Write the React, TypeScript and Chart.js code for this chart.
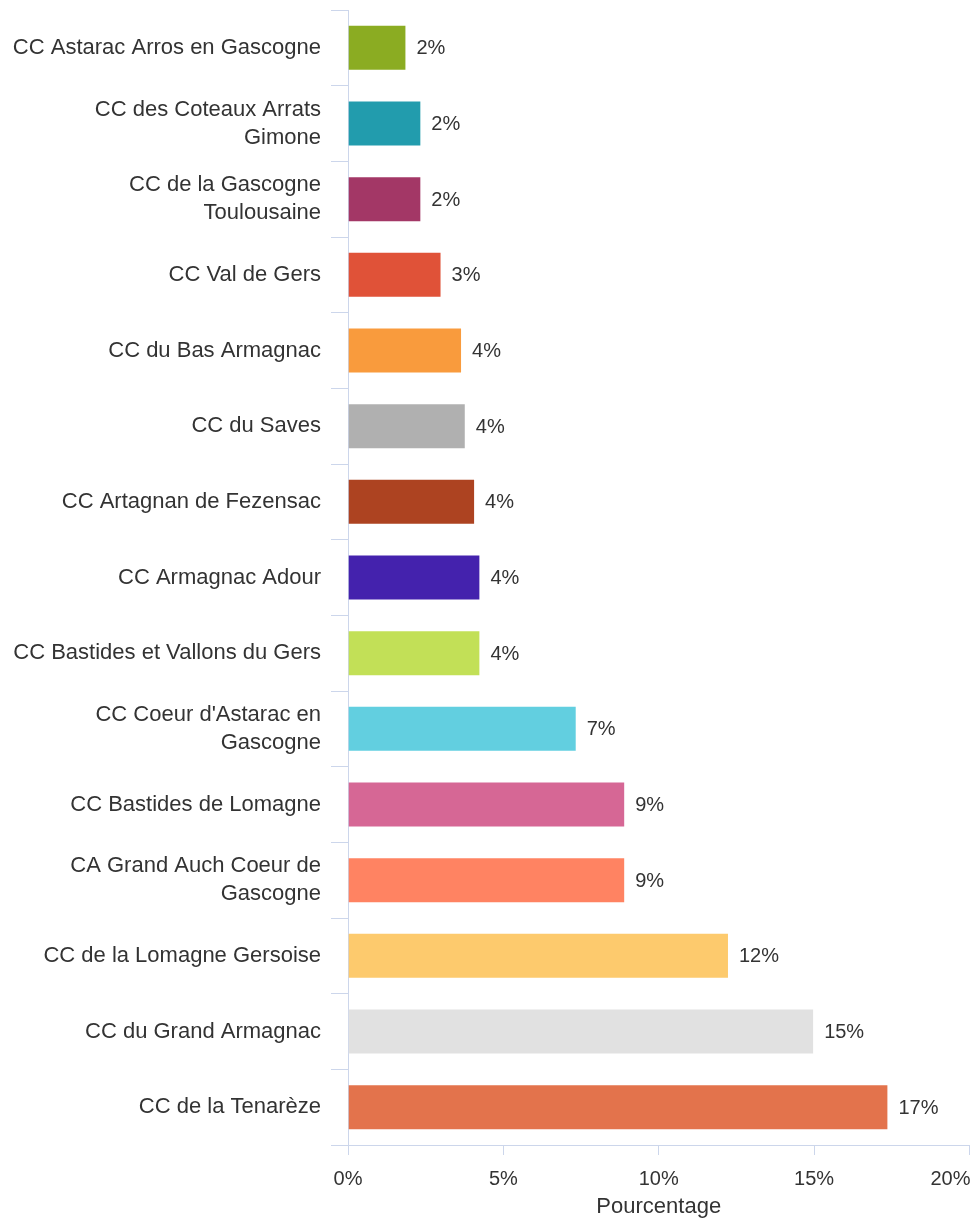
import React, { useEffect, useRef } from "react";
import { Chart, registerables } from "chart.js";

Chart.register(...registerables);

const categories: (string | string[])[] = [
  "CC Astarac Arros en Gascogne",
  ["CC des Coteaux Arrats", "Gimone"],
  ["CC de la Gascogne", "Toulousaine"],
  "CC Val de Gers",
  "CC du Bas Armagnac",
  "CC du Saves",
  "CC Artagnan de Fezensac",
  "CC Armagnac Adour",
  "CC Bastides et Vallons du Gers",
  ["CC Coeur d'Astarac en", "Gascogne"],
  "CC Bastides de Lomagne",
  ["CA Grand Auch Coeur de", "Gascogne"],
  "CC de la Lomagne Gersoise",
  "CC du Grand Armagnac",
  "CC de la Tenarèze",
];

const values: number[] = [
  1.88, 2.36, 2.36, 3.01, 3.67, 3.79, 4.09, 4.26, 4.26, 7.36, 8.92, 8.92, 12.26, 15.0, 17.39,
];

const barColors: string[] = [
  "#8BAC22",
  "#229CAD",
  "#A33766",
  "#E05238",
  "#F99B3D",
  "#B0B0B0",
  "#AD4321",
  "#4422AD",
  "#C2E057",
  "#62CFE0",
  "#D66795",
  "#FF8362",
  "#FDCA6D",
  "#E1E1E1",
  "#E3734C",
];

const xTicks: number[] = [0, 5, 10, 15, 20];
const xTitle = "Pourcentage";

const FONT = "'Liberation Sans', Arial, sans-serif";
const TEXT = "#333333";
const AXIS = "#ccd6eb";

const dataLabelPlugin = {
  id: "valueLabels",
  afterDatasetsDraw(chart: any) {
    const { ctx } = chart;
    const meta = chart.getDatasetMeta(0);
    ctx.save();
    ctx.font = `20px ${FONT}`;
    ctx.fillStyle = TEXT;
    ctx.textAlign = "left";
    ctx.textBaseline = "middle";
    meta.data.forEach((el: any, i: number) => {
      const v = chart.data.datasets[0].data[i] as number;
      ctx.fillText(`${Math.round(v)}%`, el.x + 10, el.y + 1);
    });
    ctx.restore();
  },
};

const lastTickPlugin = {
  id: "lastTick",
  afterDraw(chart: any) {
    const xs = chart.scales.x;
    const last = xTicks[xTicks.length - 1];
    const { ctx } = chart;
    ctx.save();
    ctx.font = `20px ${FONT}`;
    ctx.fillStyle = TEXT;
    ctx.textAlign = "right";
    ctx.textBaseline = "middle";
    ctx.fillText(`${last}%`, xs.getPixelForValue(last) + 1, xs.top + 10 + 12 + 12);
    ctx.restore();
  },
};

export default function App() {
  const ref = useRef<HTMLCanvasElement | null>(null);

  useEffect(() => {
    if (!ref.current) return;
    const chart = new Chart(ref.current, {
      type: "bar",
      data: {
        labels: categories,
        datasets: [
          {
            data: values,
            backgroundColor: barColors,
            borderColor: "rgba(255,255,255,0.35)",
            borderWidth: 1,
            barPercentage: 0.608,
            categoryPercentage: 1,
          },
        ],
      },
      options: {
        indexAxis: "y",
        animation: false,
        responsive: false,
        maintainAspectRatio: false,
        layout: { padding: { top: 10, right: 2.5, left: 0, bottom: 0 } },
        plugins: {
          legend: { display: false },
          tooltip: { enabled: false },
          title: { display: false },
        },
        scales: {
          x: {
            type: "linear",
            min: 0,
            max: 20,
            afterBuildTicks: (scale: any) => {
              scale.ticks = xTicks.map((v) => ({ value: v }));
            },
            afterFit: (scale: any) => {
              scale.height = 75;
              scale.paddingLeft = 0;
              scale.paddingRight = 0;
            },
            ticks: {
              callback: (v: any) => (v === xTicks[xTicks.length - 1] ? "" : `${v}%`),
              font: { size: 20, family: FONT },
              color: TEXT,
              padding: 12,
              maxRotation: 0,
            },
            grid: {
              drawOnChartArea: false,
              drawTicks: true,
              tickLength: 10,
              color: AXIS,
              lineWidth: 1,
            },
            border: { display: true, color: AXIS, width: 1 },
            title: {
              display: true,
              text: xTitle,
              font: { size: 22, family: FONT },
              color: TEXT,
              padding: { top: 6, bottom: 0 },
            },
          },
          y: {
            type: "category",
            afterFit: (scale: any) => {
              scale.width = 348;
              scale.paddingTop = 0;
              scale.paddingBottom = 0;
            },
            ticks: {
              font: { size: 22, family: FONT, lineHeight: 1.27 },
              color: TEXT,
              padding: 10,
              autoSkip: false,
            },
            grid: {
              offset: true,
              drawOnChartArea: false,
              drawTicks: true,
              tickLength: 17,
              color: AXIS,
              lineWidth: 1,
            },
            border: { display: true, color: AXIS, width: 1 },
          },
        },
      },
      plugins: [dataLabelPlugin, lastTickPlugin],
    });
    return () => chart.destroy();
  }, []);

  return (
    <div style={{ position: "absolute", left: 0, top: 0, width: 972, height: 1220, background: "#fff" }}>
      <canvas ref={ref} width={972} height={1220} style={{ display: "block", width: 972, height: 1220 }} />
    </div>
  );
}
